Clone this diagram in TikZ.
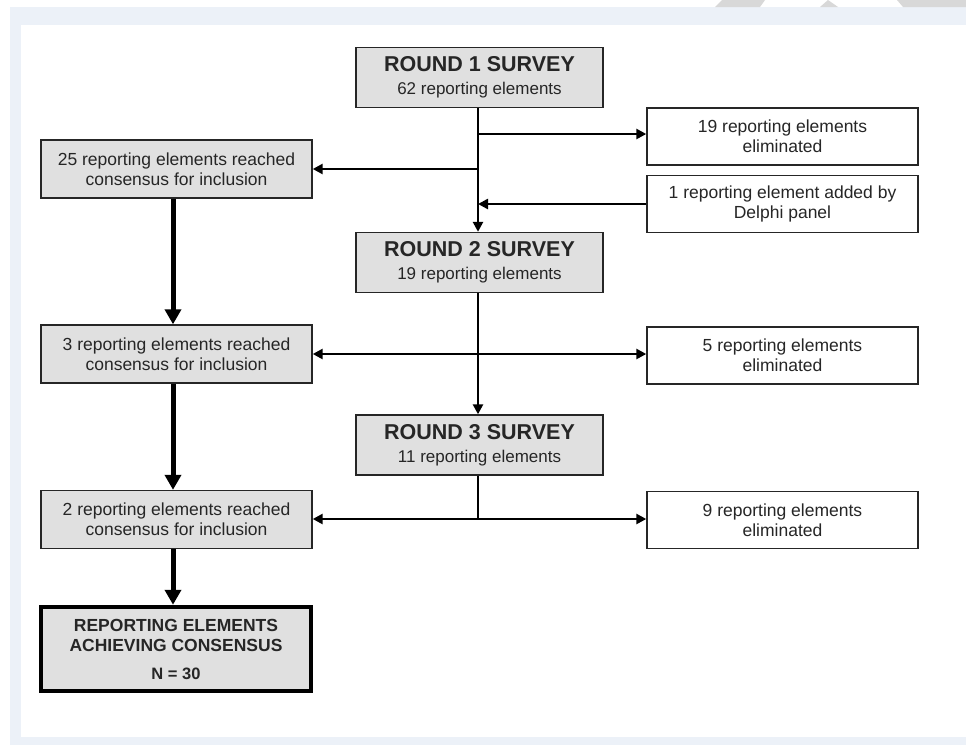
\documentclass[tikz,border=0pt]{standalone}
\usepackage{fontspec}
\setmainfont{Liberation Sans}
\usetikzlibrary{arrows.meta}
\definecolor{boxgrey}{HTML}{E0E0E0}
\definecolor{bandcol}{HTML}{ECF1F8}
\definecolor{markcol}{HTML}{D8D8D8}
\tikzset{
  base/.style={draw=black!85, line width=1.4pt, align=center, inner sep=0pt, text=black!85},
  survey/.style={base, fill=boxgrey, minimum width=247pt, minimum height=60pt, font=\fontsize{17}{23}\selectfont},
  sidebox/.style={base, fill=boxgrey, minimum width=271pt, minimum height=58pt, font=\fontsize{17.5}{20}\selectfont},
  elimbox/.style={base, fill=white, minimum width=271pt, minimum height=57pt, font=\fontsize{17.5}{20}\selectfont},
  finalbox/.style={base, draw=black, fill=boxgrey, line width=4.5pt, minimum width=270pt, minimum height=84pt, font=\fontsize{17.5}{20}\selectfont\bfseries},
  conn/.style={line width=2.6pt, -{Triangle[length=10pt,width=10pt]}},
  plainconn/.style={line width=2.6pt},
  thickconn/.style={line width=5pt, -{Triangle[length=15pt,width=16pt]}},
}
\newcommand{\ttl}[1]{{\fontsize{21.5}{23}\selectfont\bfseries #1}}
\begin{document}
\begin{tikzpicture}[x=1pt,y=-1pt]
\useasboundingbox (0,0) rectangle (966,745);
\fill[white] (0,0) rectangle (966,745);
\fill[bandcol] (10,7) rectangle (966,745);
\fill[white] (21,25) rectangle (966,737);
% top marks
\fill[markcol] (715,7) -- (722,0) -- (765,0) -- (760,7) -- cycle;
\fill[markcol] (820,7) -- (828,0) -- (838,7) -- cycle;
\fill[markcol] (903,7) -- (897,0) -- (966,0) -- (966,7) -- cycle;

\node[survey] (r1) at (479.5,77.5) {\ttl{ROUND 1 SURVEY}\\62 reporting elements};
\node[survey] (r2) at (479.5,262.5) {\ttl{ROUND 2 SURVEY}\\19 reporting elements};
\node[survey] (r3) at (479.5,445) {\ttl{ROUND 3 SURVEY}\\11 reporting elements};

\node[elimbox] (e1) at (782.5,136.5) {19 reporting elements\\eliminated};
\node[elimbox] (dp) at (782.5,204) {1 reporting element added by\\Delphi panel};
\node[elimbox] (e2) at (782.5,355.5) {5 reporting elements\\eliminated};
\node[elimbox] (e3) at (782.5,520) {9 reporting elements\\eliminated};

\node[sidebox] (c1) at (176.5,169) {25 reporting elements reached\\consensus for inclusion};
\node[sidebox] (c2) at (176.5,354) {3 reporting elements reached\\consensus for inclusion};
\node[sidebox] (c3) at (176.5,519.5) {2 reporting elements reached\\consensus for inclusion};

\node[finalbox] (fin) at (176,649) {REPORTING ELEMENTS\\ACHIEVING CONSENSUS\\[8pt]{\fontsize{16.5}{20}\selectfont N = 30}};

% main spine
\coordinate (s1) at (478,134);
\coordinate (s2) at (478,169);
\coordinate (s3) at (478,204);
\coordinate (s4) at (478,354);
\coordinate (s5) at (478,519);
\draw[conn] (r1.south -| s1) -- (r2.north -| s1);
\draw[conn] (s1) -- (s1 -| e1.west);
\draw[conn] (s2) -- (s2 -| c1.east);
\draw[conn] (dp.west |- s3) -- (s3);

\draw[conn] (r2.south -| s4) -- (r3.north -| s4);
\draw[conn] (s4) -- (s4 -| c2.east);
\draw[conn] (s4) -- (s4 -| e2.west);

\draw[plainconn] (r3.south -| s5) -- (s5);
\draw[conn] (s5) -- (s5 -| c3.east);
\draw[conn] (s5) -- (s5 -| e3.west);

\draw[thickconn] ([xshift=-3.5pt]c1.south) -- ([xshift=-3.5pt]c2.north);
\draw[thickconn] ([xshift=-3.5pt]c2.south) -- ([xshift=-3.5pt]c3.north);
\draw[thickconn] ([xshift=-3.5pt]c3.south) -- ([xshift=-3pt]fin.north);
\end{tikzpicture}
\end{document}
